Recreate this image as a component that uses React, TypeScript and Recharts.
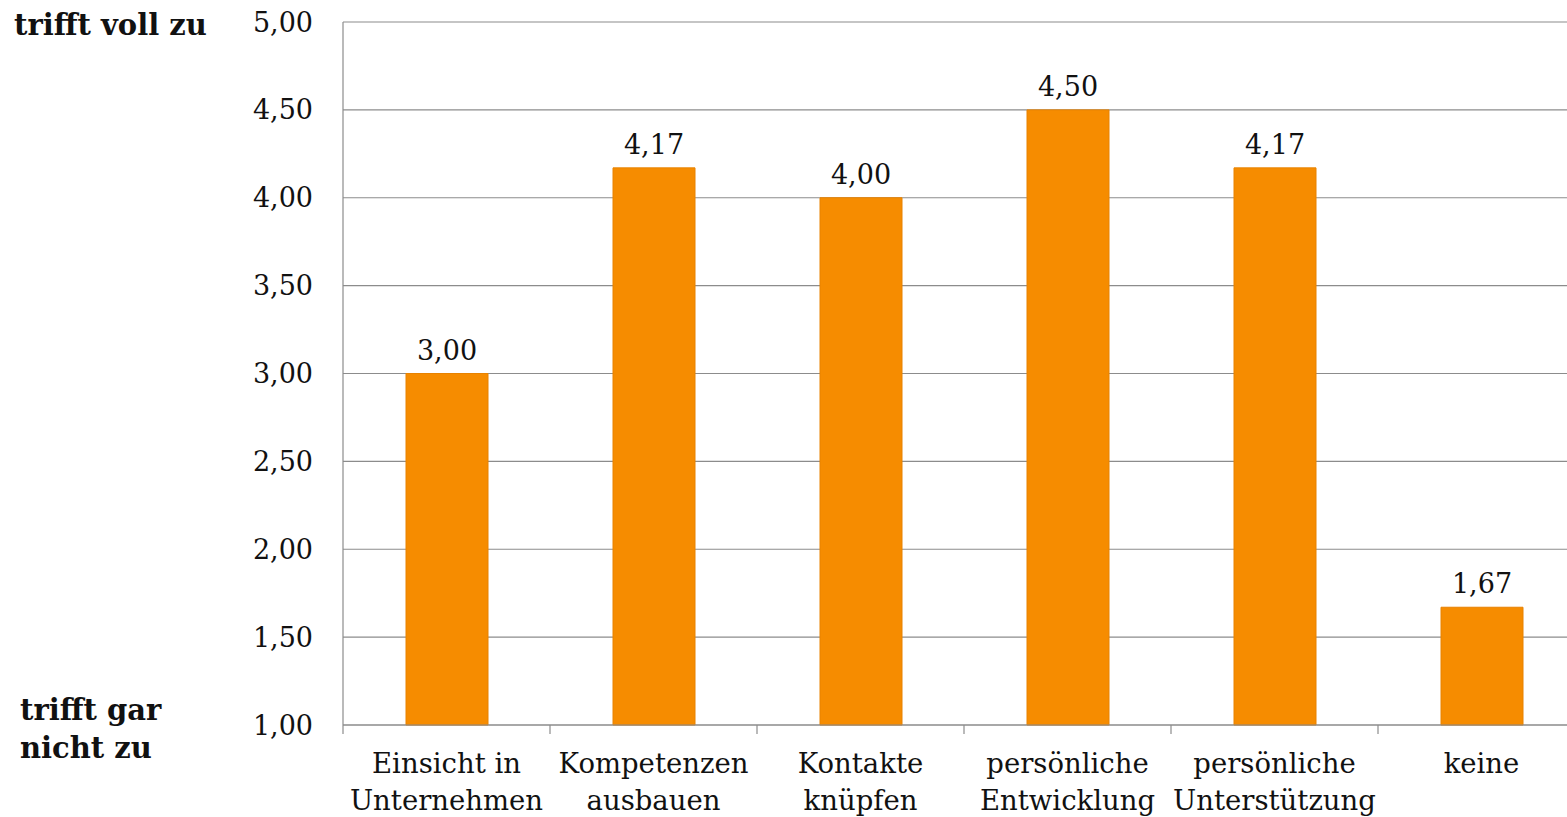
import React from "react";
import { BarChart, Bar, XAxis, YAxis, CartesianGrid, LabelList } from "recharts";

const categories = [
  "Einsicht in|Unternehmen",
  "Kompetenzen|ausbauen",
  "Kontakte|knüpfen",
  "persönliche|Entwicklung",
  "persönliche|Unterstützung",
  "keine",
];
const values = [3.0, 4.17, 4.0, 4.5, 4.17, 1.67];
const yTicks = [1, 1.5, 2, 2.5, 3, 3.5, 4, 4.5, 5];
const topLabel = "trifft voll zu";
const bottomLabel = ["trifft gar", "nicht zu"];

const data = categories.map((c, i) => ({ name: c, value: values[i] }));

const FONT = "'DejaVu Serif', serif";
const GRID = "#8c8c8c";
const fmt = (v: number) => v.toFixed(2).replace(".", ",");

const XTick = (props: any) => {
  const { x, y, payload, index, visibleTicksCount } = props;
  const lines = String(payload.value).split("|");
  const half = Number(payload.offset) || 0;
  const isLast = visibleTicksCount != null ? index === visibleTicksCount - 1 : index === categories.length - 1;
  return (
    <g>
      {half > 0 && (
        <line x1={x - half} x2={x - half} y1={y} y2={y + 9} stroke={GRID} strokeWidth={1.2} />
      )}
      {half > 0 && isLast && (
        <line x1={x + half} x2={x + half} y1={y} y2={y + 9} stroke={GRID} strokeWidth={1.2} />
      )}
      <text x={x} y={y} textAnchor="middle" fontFamily={FONT} fontSize={27.5} fill="#111">
        {lines.map((l, i) => (
          <tspan key={i} x={x} y={y + 48 + i * 37}>
            {l}
          </tspan>
        ))}
      </text>
    </g>
  );
};

export default function App() {
  return (
    <div
      style={{
        position: "fixed",
        left: 0,
        top: 0,
        width: 1567,
        height: 817,
        overflow: "hidden",
        background: "#fff",
      }}
    >
      <BarChart
        width={1600}
        height={817}
        data={data}
        margin={{ top: 22, right: 15, left: 0, bottom: 0 }}
      >
        <CartesianGrid vertical={false} stroke={GRID} strokeWidth={1.2} />
        <XAxis
          dataKey="name"
          height={92}
          tickLine={false}
          tickSize={0}
          tickMargin={0}
          axisLine={{ stroke: GRID, strokeWidth: 1.2 }}
          tick={<XTick />}
          interval={0}
        />
        <YAxis
          width={343}
          domain={[1, 5]}
          ticks={yTicks}
          tickFormatter={fmt}
          tickLine={false}
          tickSize={0}
          tickMargin={30}
          axisLine={{ stroke: GRID, strokeWidth: 1.2 }}
          tick={{ fontFamily: FONT, fontSize: 27, fill: "#111" }}
          interval={0}
        />
        <Bar dataKey="value" fill="#F68C00" stroke="#E88200" barSize={82} isAnimationActive={false}>
          <LabelList
            dataKey="value"
            position="top"
            offset={14}
            formatter={(v: any) => fmt(Number(v))}
            style={{ fontFamily: FONT, fontSize: 27, fill: "#111" }}
          />
        </Bar>
      </BarChart>
      <div
        style={{
          position: "absolute",
          left: 14,
          top: 6,
          fontFamily: FONT,
          fontWeight: "bold",
          fontSize: 29,
          color: "#111",
          lineHeight: "38px",
          whiteSpace: "nowrap",
        }}
      >
        {topLabel}
      </div>
      <div
        style={{
          position: "absolute",
          left: 20,
          top: 691,
          fontFamily: FONT,
          fontWeight: "bold",
          fontSize: 29,
          color: "#111",
          lineHeight: "38px",
          whiteSpace: "nowrap",
        }}
      >
        {bottomLabel.map((l, i) => (
          <div key={i}>{l}</div>
        ))}
      </div>
    </div>
  );
}
